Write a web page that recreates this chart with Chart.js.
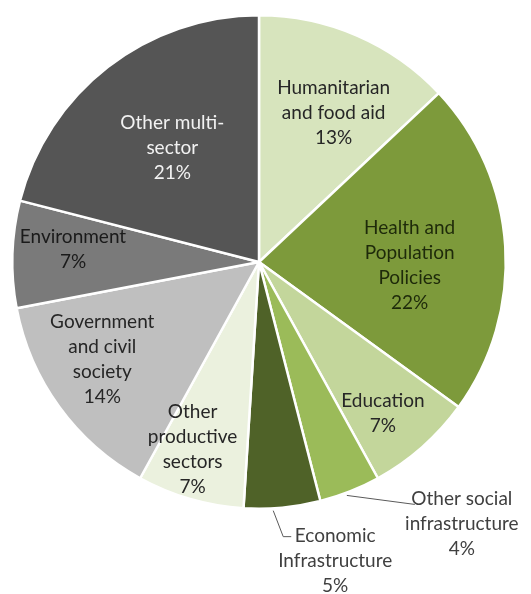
<!DOCTYPE html>
<html>
<head>
<meta charset="utf-8">
<script src="https://cdn.jsdelivr.net/npm/chart.js@4"></script>
<style>
  html, body { margin: 0; padding: 0; background: #fff; }
  #wrap { width: 531px; height: 594px; }
</style>
</head>
<body>
<div id="wrap"><canvas id="sectorChart" width="531" height="594"></canvas></div>
<script>
// Sector shares (%)
const sectors = ["Humanitarian and food aid", "Health and Population Policies", "Education",
  "Other social infrastructure", "Economic Infrastructure", "Other productive sectors",
  "Government and civil society", "Environment", "Other multi-sector"];
const shares = [13, 22, 7, 4, 5, 7, 14, 7, 21];
const labelLines = [
  ["Humanitarian", "and food aid"],
  ["Health and", "Population", "Policies"],
  ["Education"],
  ["Other social", "infrastructure"],
  ["Economic", "Infrastructure"],
  ["Other", "productive", "sectors"],
  ["Government", "and civil", "society"],
  ["Environment"],
  ["Other multi-", "sector"]
];

const sliceColors = ["#d7e4bd", "#7d9a3b", "#c3d69b", "#9bbb59", "#4f6228",
  "#ebf1de", "#bfbfbf", "#7a7a7a", "#555555"];
const textColors = ["#262626", "#1e2a0a", "#262626", "#404040", "#404040",
  "#262626", "#262626", "#1a1a1a", "#f2f2f2"];

// inside labels: radial fraction + nudge; outside labels: leader points + text offset from the edge
const labelPlace = [
  { frac: 0.68, dx: 8, dy: 5 },
  { frac: 0.62, dx: -2, dy: 13 },
  { frac: 0.79, dx: -5, dy: 5 },
  { outside: true, leader: [[-3, 4], [65, 13]], text: [112, 32] },
  { outside: true, leader: [[-9, 3], [1, 29], [9, 29]], text: [53, 53] },
  { frac: 0.79, dx: -12, dy: 0 },
  { frac: 0.73, dx: -11, dy: -9 },
  { frac: 0.75, dx: -1, dy: -7 },
  { frac: 0.58, dx: 1, dy: -1 }
];

const FONT = '19px Lato, "Open Sans", sans-serif';
const LINE_H = 25;

const sliceLabels = {
  id: "sliceLabels",
  afterDatasetsDraw(chart) {
    const ctx = chart.ctx;
    const arcs = chart.getDatasetMeta(0).data;
    ctx.save();
    ctx.font = FONT;
    ctx.textAlign = "center";
    ctx.textBaseline = "middle";
    arcs.forEach((arc, i) => {
      const { x, y, startAngle, endAngle, outerRadius } = arc.getProps(["x", "y", "startAngle", "endAngle", "outerRadius"], true);
      const mid = (startAngle + endAngle) / 2;
      const p = labelPlace[i];
      const lines = labelLines[i].concat([shares[i] + "%"]);
      let cx, cy;
      if (p.outside) {
        const ex = x + Math.cos(mid) * outerRadius;
        const ey = y + Math.sin(mid) * outerRadius;
        ctx.beginPath();
        p.leader.forEach((pt, k) => {
          if (k === 0) ctx.moveTo(ex + pt[0], ey + pt[1]);
          else ctx.lineTo(ex + pt[0], ey + pt[1]);
        });
        ctx.strokeStyle = "#5a5a5a";
        ctx.lineWidth = 1;
        ctx.stroke();
        cx = ex + p.text[0];
        cy = ey + p.text[1];
      } else {
        cx = x + Math.cos(mid) * outerRadius * p.frac + p.dx;
        cy = y + Math.sin(mid) * outerRadius * p.frac + p.dy;
      }
      ctx.fillStyle = textColors[i];
      const top = cy - (lines.length - 1) * LINE_H / 2;
      lines.forEach((t, k) => ctx.fillText(t, cx, top + k * LINE_H));
    });
    ctx.restore();
  }
};

new Chart(document.getElementById("sectorChart"), {
  type: "pie",
  data: {
    labels: sectors,
    datasets: [{
      data: shares,
      backgroundColor: sliceColors,
      borderColor: "#ffffff",
      borderWidth: 2.5
    }]
  },
  options: {
    responsive: false,
    animation: false,
    layout: { padding: { left: 11, right: 24, top: 14, bottom: 84 } },
    plugins: {
      legend: { display: false },
      tooltip: { enabled: false }
    }
  },
  plugins: [sliceLabels]
});
</script>
</body>
</html>
